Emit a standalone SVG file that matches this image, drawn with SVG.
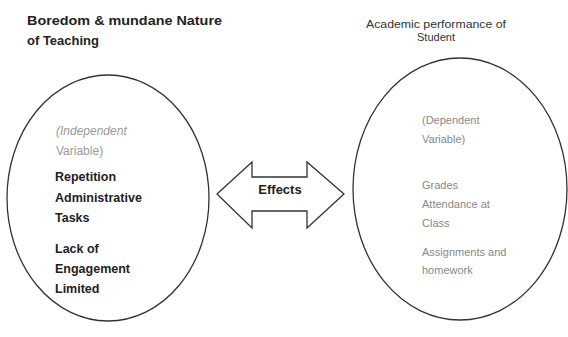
<svg xmlns="http://www.w3.org/2000/svg" width="568" height="337" viewBox="0 0 568 337">
<style>
.ell{fill:#fff;stroke:#333;stroke-width:1.3}
.title{font-family:"Liberation Sans",Arial,sans-serif;font-weight:bold;font-size:13px;fill:#222}
.sub{font-family:"Liberation Sans",Arial,sans-serif;font-size:11px;fill:#333}
.lb{font-family:"Liberation Sans",Arial,sans-serif;font-weight:bold;font-size:12.5px;fill:#222}
.lg{font-family:"Liberation Sans",Arial,sans-serif;font-size:12px;fill:#999}
.rg{font-family:"Liberation Sans",Arial,sans-serif;font-size:11px;fill:#888}
.arrow{fill:#fff;stroke:#333;stroke-width:1.3}
</style>
<rect width="568" height="337" fill="#fff"/>
<g id="title-left">
<text class="title" x="27" y="25" textLength="195" lengthAdjust="spacingAndGlyphs">Boredom &amp; mundane Nature</text>
<text class="title" x="27" y="45">of Teaching</text>
</g>
<g id="title-right">
<text class="sub" x="436" y="28" text-anchor="middle" textLength="140" lengthAdjust="spacingAndGlyphs">Academic performance of</text>
<text class="sub" x="436" y="41" text-anchor="middle">Student</text>
</g>
<g id="node-left">
<ellipse class="ell" cx="108" cy="198" rx="101" ry="123"/>
<text class="lg" x="56" y="135" font-style="italic">(Independent</text>
<text class="lg" x="56" y="155">Variable)</text>
<text class="lb" x="55" y="181">Repetition</text>
<text class="lb" x="55" y="202">Administrative</text>
<text class="lb" x="55" y="222">Tasks</text>
<text class="lb" x="55" y="253">Lack of</text>
<text class="lb" x="55" y="273">Engagement</text>
<text class="lb" x="55" y="293">Limited</text>
</g>
<g id="node-right">
<ellipse class="ell" cx="460" cy="189" rx="107" ry="131"/>
<text class="rg" x="422" y="124">(Dependent</text>
<text class="rg" x="422" y="143">Variable)</text>
<text class="rg" x="422" y="189">Grades</text>
<text class="rg" x="422" y="208">Attendance at</text>
<text class="rg" x="422" y="227">Class</text>
<text class="rg" x="422" y="256">Assignments and</text>
<text class="rg" x="422" y="274">homework</text>
</g>
<g id="connectors">
<polygon class="arrow" points="217,194 252,162 252,177 307,177 307,162 344,194 307,228 307,211 252,211 252,228"/>
<text class="title" x="280" y="194" text-anchor="middle">Effects</text>
</g>
</svg>
